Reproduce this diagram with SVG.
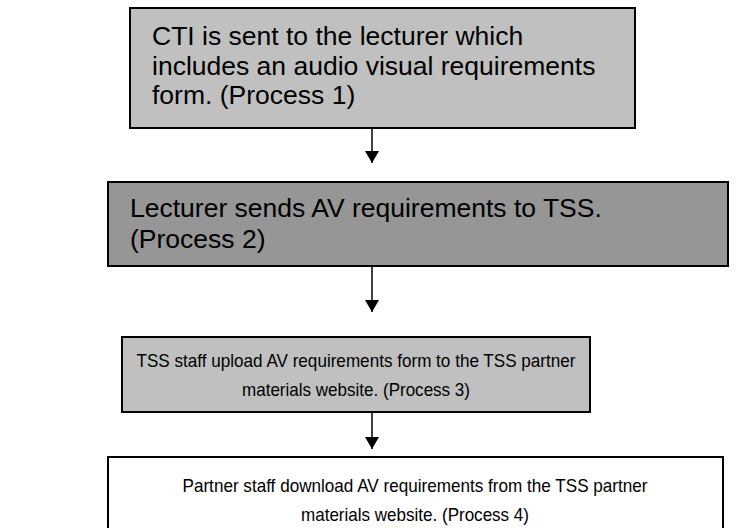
<svg xmlns="http://www.w3.org/2000/svg" width="755" height="528" viewBox="0 0 755 528">
<defs>
<style>
.box{stroke:#000;stroke-width:2}
.big{font-family:"Liberation Sans",Arial,sans-serif;font-size:26.5px;fill:#000}
.small{font-family:"Liberation Sans",Arial,sans-serif;font-size:18.5px;fill:#000;text-anchor:middle}
.conn{stroke:#000;stroke-width:1.5;fill:none;marker-end:url(#arr)}
</style>
<marker id="arr" viewBox="0 0 12 14" refX="12" refY="7" markerWidth="12" markerHeight="14" markerUnits="userSpaceOnUse" orient="auto">
<path d="M0,0 L12,7 L0,14 Z" fill="#000"/>
</marker>
</defs>
<rect width="755" height="528" fill="#fff"/>
<g id="connectors">
<line class="conn" x1="372" y1="128" x2="372" y2="163"/>
<line class="conn" x1="372" y1="266" x2="372" y2="312"/>
<line class="conn" x1="372" y1="412" x2="372" y2="449"/>
</g>
<g id="process1">
<rect class="box" x="130" y="8" width="505" height="120" fill="#c0c0c0"/>
<text class="big" x="152" y="45">CTI is sent to the lecturer which</text>
<text class="big" x="152" y="75">includes an audio visual requirements</text>
<text class="big" x="152" y="104">form. (Process 1)</text>
</g>
<g id="process2">
<rect class="box" x="108" y="182" width="620" height="84" fill="#969696"/>
<text class="big" x="130" y="217">Lecturer sends AV requirements to TSS.</text>
<text class="big" x="130" y="248">(Process 2)</text>
</g>
<g id="process3">
<rect class="box" x="122" y="337" width="468" height="75" fill="#c0c0c0"/>
<text class="small" x="356" y="367" textLength="439" lengthAdjust="spacingAndGlyphs">TSS staff upload AV requirements form to the TSS partner</text>
<text class="small" x="356" y="396" textLength="228" lengthAdjust="spacingAndGlyphs">materials website. (Process 3)</text>
</g>
<g id="process4">
<rect class="box" x="108" y="457" width="615" height="80" fill="#fff"/>
<text class="small" x="415" y="492" textLength="465" lengthAdjust="spacingAndGlyphs">Partner staff download AV requirements from the TSS partner</text>
<text class="small" x="415" y="521" textLength="228" lengthAdjust="spacingAndGlyphs">materials website. (Process 4)</text>
</g>
</svg>
